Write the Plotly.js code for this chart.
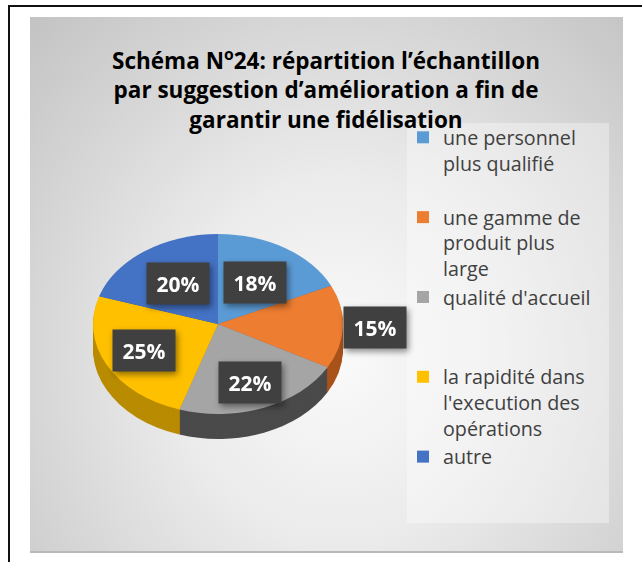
<!DOCTYPE html>
<html><head><meta charset="utf-8">
<script src="https://cdn.plot.ly/plotly-3.0.1.min.js"></script>
<style>
html,body{margin:0;padding:0;background:#fff;width:642px;height:562px;overflow:hidden;}
#topline{position:absolute;left:8px;top:5px;width:634px;height:2px;background:#111;}
#leftline{position:absolute;left:8px;top:5px;width:2px;height:557px;background:#111;}
#panel{position:absolute;left:30px;top:17px;width:593px;height:534px;border-bottom:2px solid #b9b9b9;
  background:radial-gradient(ellipse farthest-corner at 52% 64%, #fafafa 0%, #ebebeb 38%, #c3c3c3 100%);}
#chart{position:absolute;left:0;top:0;width:642px;height:562px;}
.annotation{filter:drop-shadow(2px 3px 3px rgba(0,0,0,0.45));}
</style></head>
<body>
<div id="panel"></div>
<div id="topline"></div>
<div id="leftline"></div>
<div id="chart"></div>
<script>
const categories = [
  "une personnel<br>plus qualifié",
  "une gamme de<br>produit plus<br>large",
  "qualité d'accueil",
  "la rapidité dans<br>l'execution des<br>opérations",
  "autre"
];
const values = [18, 15, 22, 25, 20];
const colors = ['#5B9BD5', '#ED7D31', '#A5A5A5', '#FFC000', '#4472C4'];
const sideColors = ['#3d6f9e', '#a9531b', '#4a4a4a', '#b98b00', '#2f5597'];
const labelRadius = [0.55, 1.26, 0.70, 0.66, 0.55];
const titleText = "<b>Schéma N<sup>o</sup>24: répartition l’échantillon</b><br><b>par suggestion d’amélioration a fin de</b><br><b>garantir une fidélisation</b>";

const W = 642, H = 562, CX = 218, CY = 324, R = 125, K = 0.72, DEPTH = 25, LAYERS = 16;

// legend labels padded so that every entry takes three lines
const legendLabels = categories.map((c, i) => {
  const n = c.split('<br>').length;
  let s = c;
  if (i < categories.length - 1) for (let j = n; j < 3; j++) s += '<br>\u00a0';
  return s;
});

function domainAt(cyU) {
  return {x: [(CX - R) / W, (CX + R) / W], y: [1 - (cyU + R) / H, 1 - (cyU - R) / H]};
}

const traces = [];
for (let i = LAYERS; i >= 1; i--) {
  traces.push({
    type: 'pie', values: values, labels: legendLabels, sort: false,
    direction: 'clockwise', rotation: 0,
    domain: domainAt(CY + DEPTH * i / LAYERS / K),
    marker: {colors: sideColors, line: {width: 0}},
    textinfo: 'none', textposition: 'none', showlegend: false, hoverinfo: 'skip'
  });
}
traces.push({
  type: 'pie', values: values, labels: legendLabels, sort: false,
  direction: 'clockwise', rotation: 0,
  domain: domainAt(CY),
  marker: {colors: colors, line: {width: 0}},
  textinfo: 'none', textposition: 'none', showlegend: true
});

const total = values.reduce((a, b) => a + b, 0);
const annotations = [];
let cum = 0;
values.forEach((v, i) => {
  const a = 2 * Math.PI * (cum + v / 2) / total;
  cum += v;
  const x = CX + labelRadius[i] * R * Math.sin(a);
  const y = CY - labelRadius[i] * R * K * Math.cos(a);
  annotations.push({
    xref: 'paper', yref: 'paper', x: x / W, y: 1 - y / H,
    xanchor: 'center', yanchor: 'middle', showarrow: false,
    text: '<b>' + Math.round(v / total * 100) + '%</b>',
    bgcolor: '#404040', width: 62, height: 41, borderpad: 0,
    font: {family: 'Open Sans', size: 21, color: '#ffffff'}
  });
});

const layout = {
  width: W, height: H,
  margin: {l: 0, r: 0, t: 0, b: 0},
  paper_bgcolor: 'rgba(0,0,0,0)', plot_bgcolor: 'rgba(0,0,0,0)',
  title: {
    text: titleText, x: 326 / W, xanchor: 'center', xref: 'paper',
    y: 1 - 69 / H, yanchor: 'middle', yref: 'paper',
    font: {family: 'Open Sans', size: 22.5, color: '#000000'}
  },
  showlegend: true,
  legend: {
    x: 403 / W, xanchor: 'left', y: 1 - 118 / H, yanchor: 'top',
    bgcolor: 'rgba(0,0,0,0)', borderwidth: 0, valign: 'top',
    font: {family: 'Open Sans', size: 19.7, color: '#404040'},
    itemwidth: 30, traceorder: 'normal'
  },
  shapes: [{
    type: 'rect', xref: 'paper', yref: 'paper', layer: 'below',
    x0: 407 / W, x1: 609 / W, y0: 1 - 523 / H, y1: 1 - 123 / H,
    fillcolor: 'rgba(255,255,255,0.35)', line: {width: 0}
  }],
  annotations: annotations
};

Plotly.newPlot('chart', traces, layout, {displayModeBar: false, staticPlot: true}).then(gd => {
  const pl = gd.querySelector('.pielayer');
  if (pl) pl.setAttribute('transform', 'translate(0,' + (CY * (1 - K)) + ') scale(1,' + K + ')');
});
</script>
</body></html>
